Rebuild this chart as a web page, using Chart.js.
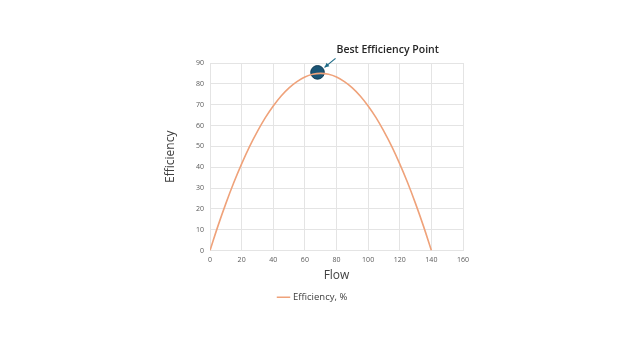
<!DOCTYPE html>
<html><head><meta charset="utf-8">
<script src="https://cdn.jsdelivr.net/npm/chart.js@4/dist/chart.umd.min.js"></script>
<style>html,body{margin:0;padding:0;background:#fff}#wrap{width:624px;height:352px}</style>
</head><body><div id="wrap"><canvas id="c" width="624" height="352"></canvas></div>
<script>
const flow = [0,5,10,15,20,25,30,35,40,45,50,55,60,65,70,75,80,85,90,95,100,105,110,115,120,125,130,135,140];
const efficiency = [0,11.7,22.5,32.5,41.6,49.9,57.2,63.8,69.4,74.2,78.1,81.1,83.3,84.6,85,84.6,83.3,81.1,78.1,74.2,69.4,63.8,57.2,49.9,41.6,32.5,22.5,11.7,0];
const bepFlow = [68];
const bepEff = [85.5];
const xTicks = [0,20,40,60,80,100,120,140,160];
const yTicks = [0,10,20,30,40,50,60,70,80,90];
const seriesName = 'Efficiency, %';
const bepLabel = 'Best Efficiency Point';

const annot = {
  id:'annot',
  afterDatasetsDraw(chart){
    const ctx = chart.ctx;
    const xs = chart.scales.x, ys = chart.scales.y;
    const px = xs.getPixelForValue(bepFlow[0]), py = ys.getPixelForValue(bepEff[0]);
    ctx.save();
    const x1 = px+18, y1 = py-14, x2 = px+7, y2 = py-5;
    ctx.strokeStyle = '#1d6a86'; ctx.fillStyle='#1d6a86'; ctx.lineWidth = 1.2;
    ctx.beginPath(); ctx.moveTo(x1,y1); ctx.lineTo(x2,y2); ctx.stroke();
    const ang = Math.atan2(y2-y1,x2-x1);
    ctx.beginPath(); ctx.moveTo(x2,y2);
    ctx.lineTo(x2-5*Math.cos(ang-0.45), y2-5*Math.sin(ang-0.45));
    ctx.lineTo(x2-5*Math.cos(ang+0.45), y2-5*Math.sin(ang+0.45));
    ctx.closePath(); ctx.fill();
    ctx.fillStyle = '#262626';
    ctx.font = '600 10.5px "Open Sans"';
    ctx.textBaseline = 'middle'; ctx.textAlign = 'left';
    ctx.fillText(bepLabel, px+19, py-22);
    ctx.restore();
  }
};

new Chart(document.getElementById('c'), {
  type:'scatter',
  data:{datasets:[
    {label:seriesName, data:flow.map((f,i)=>({x:f,y:efficiency[i]})), showLine:true,
     borderColor:'#EFA27A', backgroundColor:'#EFA27A', borderWidth:1.6, pointRadius:0, tension:0.4},
    {label:'BEP', data:bepFlow.map((f,i)=>({x:f,y:bepEff[i]})), pointRadius:6.8, pointBackgroundColor:'#1B5576', pointBorderColor:'#123c55', pointBorderWidth:1}
  ]},
  options:{
    responsive:false, animation:false,
    layout:{padding:{left:163,right:161,top:63,bottom:40}},
    plugins:{
      legend:{position:'bottom', labels:{usePointStyle:true, pointStyle:'line', boxWidth:14, padding:10, color:'#404040', font:{size:9.5,family:'"Open Sans"'}, filter:(it)=>it.datasetIndex===0}},
      tooltip:{enabled:false}
    },
    scales:{
      x:{type:'linear', min:0, max:160, afterBuildTicks:(s)=>{s.ticks=xTicks.map(v=>({value:v}))},
        grid:{color:'#e4e4e4', drawTicks:false}, border:{display:false},
        ticks:{color:'#595959', font:{size:7,family:'"Open Sans"'}, padding:5},
        title:{display:true, text:'Flow', color:'#404040', font:{size:12,family:'"Open Sans"'}, padding:{top:2,bottom:0}},
        afterFit:(s)=>{s.height=32}},
      y:{min:0, max:90, afterBuildTicks:(s)=>{s.ticks=yTicks.map(v=>({value:v}))},
        grid:{color:'#e4e4e4', drawTicks:false}, border:{display:false},
        ticks:{color:'#595959', font:{size:7,family:'"Open Sans"'}, padding:6},
        title:{display:true, text:'Efficiency', color:'#404040', font:{size:12,family:'"Open Sans"'}, padding:{top:0,bottom:10}},
        afterFit:(s)=>{s.width=47}}
    }
  },
  plugins:[annot]
});
</script></body></html>
